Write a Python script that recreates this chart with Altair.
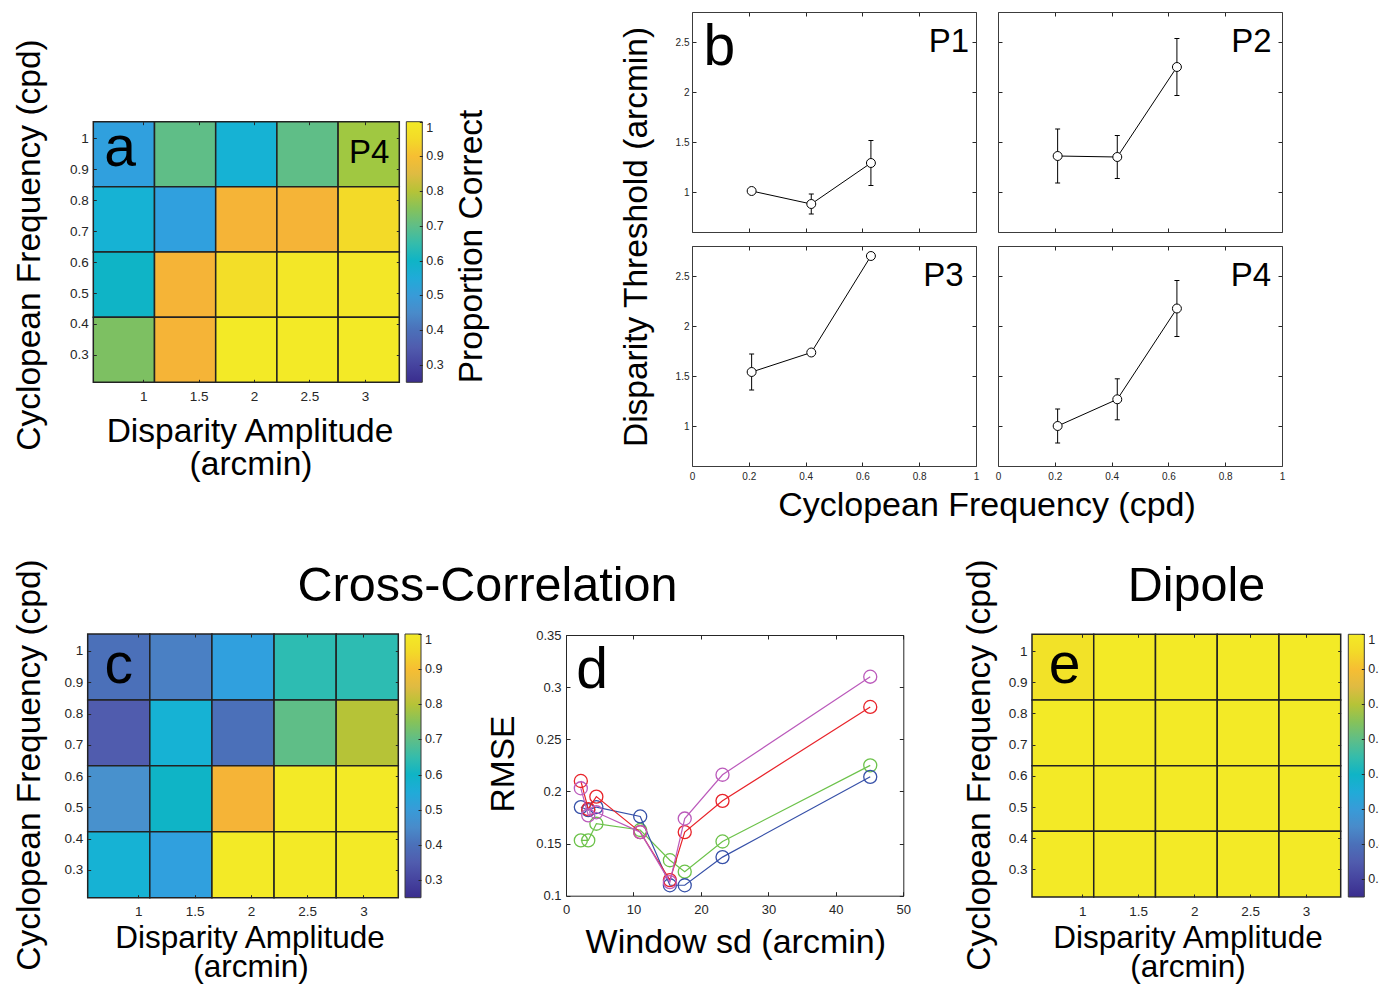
import altair as alt
import pandas as pd

FONT = "Liberation Sans"
INK = "#262626"
W, H = 1371, 976

# ---------------- heatmap grids (panels a, c, e) ----------------
amp_edges = [0.55, 1.102, 1.654, 2.206, 2.758, 3.31]
freq_edges = [0.2115, 0.4221, 0.6327, 0.8433, 1.054]
amp_ticks = [1, 1.5, 2, 2.5, 3]
freq_ticks = [0.3, 0.4, 0.5, 0.6, 0.7, 0.8, 0.9, 1]
cbar_ticks = [0.3, 0.4, 0.5, 0.6, 0.7, 0.8, 0.9, 1]
cbar_range = [0.25, 1]

# rows listed from the highest cyclopean frequency (top) to the lowest
p4_correct = [
    [0.52, 0.70, 0.57, 0.70, 0.78],
    [0.57, 0.52, 0.88, 0.88, 0.95],
    [0.60, 0.88, 0.96, 0.99, 0.99],
    [0.74, 0.88, 1.00, 1.00, 1.00],
]
xcorr_correct = [
    [0.40, 0.43, 0.52, 0.64, 0.64],
    [0.35, 0.57, 0.40, 0.70, 0.80],
    [0.46, 0.60, 0.88, 1.00, 1.00],
    [0.57, 0.52, 1.00, 1.00, 1.00],
]
dipole_correct = [
    [0.97, 1.00, 1.00, 1.00, 1.00],
    [1.00, 1.00, 1.00, 1.00, 1.00],
    [1.00, 1.00, 1.00, 1.00, 1.00],
    [1.00, 1.00, 1.00, 1.00, 1.00],
]

# parula-like colour map (value -> colour)
cmap_values = [0.25, 0.30, 0.35, 0.40, 0.43, 0.46, 0.52, 0.57, 0.60, 0.64,
               0.70, 0.74, 0.78, 0.80, 0.84, 0.88, 0.92, 0.95, 0.97, 1.00]
cmap_colors = ["#3a2d8e", "#46449f", "#505cae", "#4b70b9", "#4a80c4", "#4891cd",
               "#30a0de", "#16b2d4", "#0fb4c6", "#2dbcb2", "#5fbe87", "#7dc062",
               "#a0c841", "#b6c337", "#d8bd45", "#f5b437", "#f6c82f", "#f3da28",
               "#f2e228", "#f3ea26"]

# ---------------- panel b ----------------
cyc_freq = [0.21, 0.42, 0.63]
thr_P1 = [1.01, 0.88, 1.29]
err_P1 = [0.01, 0.10, 0.225]
thr_P2 = [1.36, 1.35, 2.25]
err_P2 = [0.27, 0.215, 0.285]
thr_P3 = [1.54, 1.735, 2.70]
err_P3 = [0.18, 0.01, 0.01]
thr_P4 = [1.00, 1.267, 2.175]
err_P4 = [0.17, 0.205, 0.28]
freq_axis_ticks = [0, 0.2, 0.4, 0.6, 0.8, 1]
thr_axis_ticks = [1, 1.5, 2, 2.5]

# ---------------- panel d ----------------
window_sd = [2.2, 3.3, 4.5, 11, 15.4, 17.6, 23.2, 45.1]
rmse_green = [0.153, 0.153, 0.169, 0.163, 0.134, 0.123, 0.152, 0.225]
rmse_blue = [0.185, 0.182, 0.185, 0.176, 0.110, 0.110, 0.137, 0.214]
rmse_red = [0.210, 0.183, 0.195, 0.161, 0.115, 0.161, 0.191, 0.281]
rmse_purple = [0.203, 0.177, 0.180, 0.161, 0.113, 0.174, 0.216, 0.310]
window_ticks = [0, 10, 20, 30, 40, 50]
rmse_ticks = [0.1, 0.15, 0.2, 0.25, 0.3, 0.35]

series_colors = {"green": "#6cc24a", "blue": "#3650a8", "red": "#e8232a", "purple": "#bb5abb"}

NUMFMT = ".4~g"


def ax(orient, offset, values, labels=False, ticks=True, domain=True,
       tick_size=4, label_size=12, pad=4, dcolor=INK):
    kw = dict(orient=orient, offset=offset, values=values, title=None, grid=False,
              labels=labels, ticks=ticks, domain=domain, zindex=1)
    if ticks:
        kw.update(tickSize=tick_size, tickColor=INK, tickWidth=1)
    else:
        kw.update(tickSize=0)
    if domain:
        kw.update(domainColor=dcolor, domainWidth=1)
    if labels:
        kw.update(labelFontSize=label_size, labelColor=INK, labelFont=FONT,
                  labelPadding=pad, format=NUMFMT, labelFlush=False, labelOverlap=False)
    return alt.Axis(**kw)


def heat_df(values):
    rows = []
    n = len(values)
    for r, row in enumerate(values):
        k = n - 1 - r
        for c, v in enumerate(row):
            rows.append(dict(a0=amp_edges[c], a1=amp_edges[c + 1],
                             f0=freq_edges[k], f1=freq_edges[k + 1], v=v))
    return pd.DataFrame(rows)


def heat_panel(values, L, R, T, B, lx, ly, llen):
    df = heat_df(values)
    xs = alt.Scale(domain=[amp_edges[0], amp_edges[-1]], range=[L, R], nice=False, zero=False)
    ys = alt.Scale(domain=[freq_edges[0], freq_edges[-1]], range=[B, T], nice=False, zero=False)
    cs = alt.Scale(domain=cmap_values, range=cmap_colors, interpolate="rgb")
    leg = alt.Legend(orient="none", legendX=lx, legendY=ly, direction="vertical",
                     gradientLength=llen, gradientThickness=16, title=None,
                     values=cbar_ticks, format=NUMFMT, labelFontSize=12.5,
                     labelColor=INK, labelFont=FONT, labelOffset=4, padding=0,
                     gradientStrokeColor="#3a3a3a", gradientStrokeWidth=1,
                     labelOverlap=False)
    base = alt.Chart(df)
    cells = base.mark_rect(stroke="#222222", strokeWidth=1.5).encode(
        x=alt.X("a0:Q", scale=xs, axis=ax("bottom", B - H, amp_ticks, labels=True, ticks=False,
                                          domain=False, label_size=13.5, pad=7)),
        x2="a1:Q",
        y=alt.Y("f0:Q", scale=ys, axis=ax("left", -L, freq_ticks, labels=True, ticks=False,
                                          domain=False, label_size=13.5, pad=5)),
        y2="f1:Q",
        color=alt.Color("v:Q", scale=cs, legend=leg),
    )
    g1 = base.mark_point(opacity=0).encode(
        x=alt.X("a0:Q", scale=xs, axis=ax("top", -B, amp_ticks, domain=False, tick_size=3)),
        y=alt.Y("f0:Q", scale=ys, axis=ax("right", L - W, freq_ticks, domain=False, tick_size=3)),
    )
    g2 = base.mark_point(opacity=0).encode(
        x=alt.X("a0:Q", scale=xs, axis=ax("bottom", T - H, amp_ticks, domain=False, tick_size=3)),
        y=alt.Y("f0:Q", scale=ys, axis=ax("left", -R, freq_ticks, domain=False, tick_size=3)),
    )
    heat = alt.layer(cells, g1, g2).resolve_axis(x="independent", y="independent")
    # inward ticks on the colour bar (an axis on the colour-bar scale)
    cbar = base.mark_point(opacity=0).encode(
        y=alt.Y("v:Q", scale=alt.Scale(domain=cbar_range, range=[ly + llen, ly], nice=False, zero=False),
                axis=ax("left", -(lx + 16), cbar_ticks, domain=False, tick_size=3)))
    return [heat, cbar]


def thr_panel(t, e, L, R, T, B, xlab, ylab):
    df = pd.DataFrame({"f": cyc_freq, "t": t, "e": e})
    df["lo"] = df["t"] - df["e"]
    df["hi"] = df["t"] + df["e"]
    xs = alt.Scale(domain=[0, 1], range=[L, R], nice=False, zero=False)
    ys = alt.Scale(domain=[0.6, 2.8], range=[B, T], nice=False, zero=False)
    box = "#3c3c3c"
    xl = ax("bottom", B - H, freq_axis_ticks, labels=True, ticks=False, domain=False,
            label_size=10, pad=5) if xlab else None
    yl = ax("left", -L, thr_axis_ticks, labels=True, ticks=False, domain=False,
            label_size=10, pad=3) if ylab else None
    base = alt.Chart(df)
    line = base.mark_line(color="black", strokeWidth=1).encode(
        x=alt.X("f:Q", scale=xs, axis=xl), y=alt.Y("t:Q", scale=ys, axis=yl))
    bars = base.mark_rule(color="black", strokeWidth=1).encode(
        x=alt.X("f:Q", scale=xs, axis=ax("top", -B, freq_axis_ticks, dcolor=box)),
        y=alt.Y("lo:Q", scale=ys, axis=ax("right", L - W, thr_axis_ticks, dcolor=box)),
        y2="hi:Q")
    cap_lo = base.mark_tick(orient="horizontal", size=5, thickness=1, color="black", opacity=1).encode(
        x=alt.X("f:Q", scale=xs, axis=ax("bottom", T - H, freq_axis_ticks, dcolor=box)),
        y=alt.Y("lo:Q", scale=ys, axis=ax("left", -R, thr_axis_ticks, dcolor=box)))
    cap_hi = base.mark_tick(orient="horizontal", size=5, thickness=1, color="black", opacity=1).encode(
        x=alt.X("f:Q", scale=xs, axis=None), y=alt.Y("hi:Q", scale=ys, axis=None))
    pts = base.mark_point(shape="circle", filled=True, fill="white", stroke="black",
                          strokeWidth=1, size=80, opacity=1).encode(
        x=alt.X("f:Q", scale=xs, axis=None), y=alt.Y("t:Q", scale=ys, axis=None))
    return alt.layer(line, bars, cap_lo, cap_hi, pts).resolve_axis(x="independent", y="independent")


def rmse_panel(L, R, T, B):
    xs = alt.Scale(domain=[0, 50], range=[L, R], nice=False, zero=False)
    ys = alt.Scale(domain=[0.1, 0.35], range=[B, T], nice=False, zero=False)
    axes = [
        (ax("bottom", B - H, window_ticks, labels=True, ticks=False, domain=False, label_size=13, pad=8),
         ax("left", -L, rmse_ticks, labels=True, ticks=False, domain=False, label_size=13, pad=5)),
        (ax("top", -B, window_ticks), ax("right", L - W, rmse_ticks)),
        (ax("bottom", T - H, window_ticks), ax("left", -R, rmse_ticks)),
    ]
    series = [("green", rmse_green), ("blue", rmse_blue), ("red", rmse_red), ("purple", rmse_purple)]
    layers = []
    i = 0
    for name, vals in series:
        df = pd.DataFrame({"w": window_sd, "r": vals})
        col = series_colors[name]
        for kind in ("line", "pts"):
            if i < len(axes):
                xa, ya = axes[i]
            else:
                xa, ya = None, None
            i += 1
            base = alt.Chart(df)
            if kind == "line":
                m = base.mark_line(color=col, strokeWidth=1.2)
            else:
                m = base.mark_point(shape="circle", color=col, size=170, strokeWidth=1.3, opacity=1)
            layers.append(m.encode(x=alt.X("w:Q", scale=xs, axis=xa), y=alt.Y("r:Q", scale=ys, axis=ya)))
    return alt.layer(*layers).resolve_axis(x="independent", y="independent")


one = pd.DataFrame({"k": [0]})


def txt(s, x, y, size=33.5, angle=0, align="center"):
    return alt.Chart(one).mark_text(text=s, font=FONT, fontSize=size, angle=angle, align=align,
                                    baseline="alphabetic", color="black").encode(
        x=alt.value(x), y=alt.value(y))


layers = []
layers += heat_panel(p4_correct, 85.3, 391.3, 113.7, 374.3, 398.3, 113.7, 260.6)
layers += heat_panel(xcorr_correct, 79.7, 390.3, 626, 889.7, 397, 626, 263.7)
layers += heat_panel(dipole_correct, 1024, 1332.7, 626.3, 889, 1340.3, 626.3, 262.7)
layers += [
    thr_panel(thr_P1, err_P1, 684, 968, 4, 224, False, True),
    thr_panel(thr_P2, err_P2, 990, 1274, 4, 224, False, False),
    thr_panel(thr_P3, err_P3, 684, 968, 238, 458, True, True),
    thr_panel(thr_P4, err_P4, 990, 1274, 238, 458, True, False),
    rmse_panel(558, 895.3, 627, 887.7),
    # panel a texts
    txt("Cyclopean Frequency (cpd)", 32, 237, angle=270),
    txt("Disparity Amplitude", 242, 433.7, size=33.5),
    txt("(arcmin)", 243, 467, size=33.5),
    txt("Proportion Correct", 473.7, 238.5, angle=270),
    txt("a", 96.2, 158, size=57, align="left"),
    txt("P4", 381.3, 155.3, size=33, align="right"),
    # panel b texts
    txt("Disparity Threshold (arcmin)", 638.5, 229, angle=270),
    txt("Cyclopean Frequency (cpd)", 979, 508, size=34),
    txt("b", 695.5, 56.5, size=57, align="left"),
    txt("P1", 961, 44, size=33, align="right"),
    txt("P2", 1263.6, 44, size=33, align="right"),
    txt("P3", 955.7, 278, size=33, align="right"),
    txt("P4", 1263, 278, size=33, align="right"),
    # bottom row titles
    txt("Cross-Correlation", 479.5, 593, size=48.5),
    txt("Dipole", 1188.5, 593, size=48.5),
    # panel c texts
    txt("Cyclopean Frequency (cpd)", 32, 757, angle=270),
    txt("Disparity Amplitude", 242, 940, size=31.5),
    txt("(arcmin)", 243, 969, size=31.5),
    txt("c", 96.4, 675, size=57, align="left"),
    # panel d texts
    txt("RMSE", 506, 756, angle=270),
    txt("Window sd (arcmin)", 727.8, 945, size=34),
    txt("d", 568.3, 679.5, size=57, align="left"),
    # panel e texts
    txt("Cyclopean Frequency (cpd)", 982, 757, angle=270),
    txt("Disparity Amplitude", 1180, 940, size=31.5),
    txt("(arcmin)", 1180, 969, size=31.5),
    txt("e", 1040.7, 675, size=57, align="left"),
]

chart = (
    alt.layer(*layers)
    .resolve_scale(x="independent", y="independent", color="independent")
    .properties(width=W, height=H, padding=0, autosize=alt.AutoSizeParams(type="none"))
    .configure(font=FONT)
    .configure_view(stroke="transparent")
)

chart.save("out.html", embed_options={"renderer": "svg", "actions": False})
